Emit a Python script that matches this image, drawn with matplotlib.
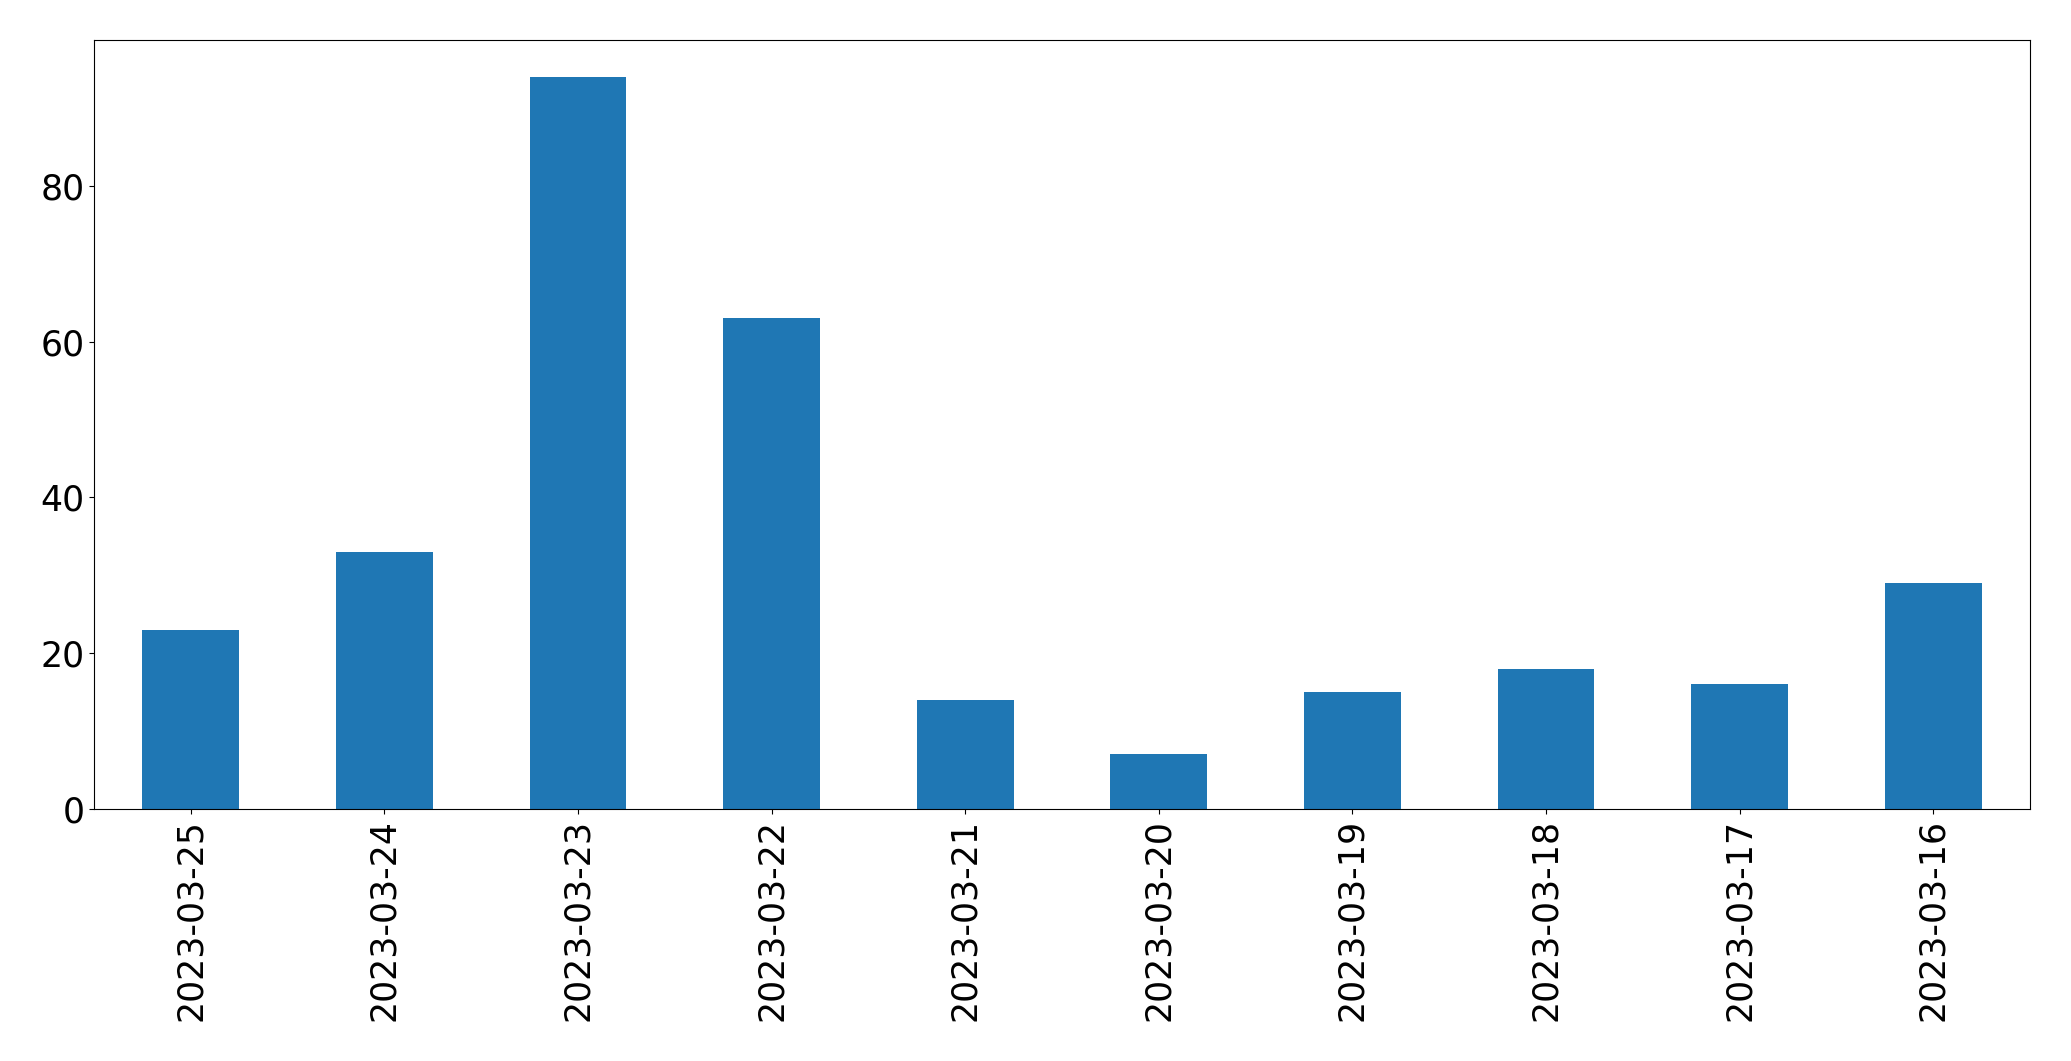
import pandas as pd
import matplotlib
matplotlib.use("Agg")
import matplotlib.pyplot as plt

# daily counts, newest first
dates = ["2023-03-25", "2023-03-24", "2023-03-23", "2023-03-22", "2023-03-21",
         "2023-03-20", "2023-03-19", "2023-03-18", "2023-03-17", "2023-03-16"]
counts = [23, 33, 94, 63, 14, 7, 15, 18, 16, 29]

s = pd.Series(counts, index=dates)

fig = plt.figure(figsize=(20.71, 10.61), dpi=100)
ax = fig.add_axes([94 / 2071, 1 - 809 / 1061, (2030 - 94) / 2071, (809 - 40) / 1061])
s.plot.bar(ax=ax, color="#1f77b4")
ax.tick_params(axis="both", labelsize=25)

fig.savefig("out.png", dpi=100)
